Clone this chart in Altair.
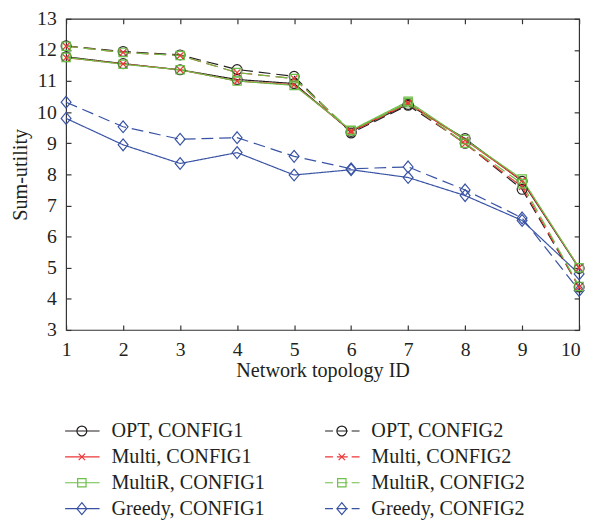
import altair as alt
import pandas as pd

# ---------------- data ----------------
topology_ids = [1, 2, 3, 4, 5, 6, 7, 8, 9, 10]

opt_config1    = [11.78, 11.56, 11.36, 11.05, 10.92, 9.38, 10.25, 9.15, 7.78, 4.98]
multi_config1  = [11.75, 11.55, 11.36, 11.00, 10.88, 9.40, 10.30, 9.10, 7.80, 5.00]
multir_config1 = [11.76, 11.54, 11.36, 11.00, 10.86, 9.42, 10.35, 9.12, 7.85, 5.00]
greedy_config1 = [9.80, 8.95, 8.35, 8.70, 7.98, 8.15, 7.90, 7.32, 6.52, 4.80]

opt_config2    = [12.13, 11.95, 11.84, 11.37, 11.15, 9.33, 10.22, 9.00, 7.52, 4.38]
multi_config2  = [12.12, 11.92, 11.82, 11.27, 11.08, 9.36, 10.28, 8.98, 7.60, 4.38]
multir_config2 = [12.12, 11.92, 11.82, 11.27, 11.08, 9.40, 10.30, 9.00, 7.70, 4.40]
greedy_config2 = [10.32, 9.53, 9.13, 9.18, 8.58, 8.18, 8.24, 7.50, 6.60, 4.27]

algorithms = ["OPT", "Multi", "MultiR", "Greedy"]
configs = ["CONFIG1", "CONFIG2"]
y_ticks = [3, 4, 5, 6, 7, 8, 9, 10, 11, 12, 13]

series_defs = [
    ("Greedy", "CONFIG1", greedy_config1),
    ("Greedy", "CONFIG2", greedy_config2),
    ("OPT", "CONFIG1", opt_config1),
    ("OPT", "CONFIG2", opt_config2),
    ("Multi", "CONFIG1", multi_config1),
    ("Multi", "CONFIG2", multi_config2),
    ("MultiR", "CONFIG1", multir_config1),
    ("MultiR", "CONFIG2", multir_config2),
]

rows = []
for algo, cfg, vals in series_defs:
    for tid, v in zip(topology_ids, vals):
        rows.append({"id": tid, "value": v, "algo": algo, "config": cfg,
                     "series": f"{algo}, {cfg}"})
df = pd.DataFrame(rows)

# legend entries (two columns, four rows)
leg_rows = []
for c, cfg in enumerate(configs):
    for r, algo in enumerate(algorithms):
        leg_rows.append({"label": f"{algo}, {cfg}", "algo": algo, "config": cfg,
                         "col": c, "row": r})
leg = pd.DataFrame(leg_rows)

# ---------------- styling ----------------
FONT = "Liberation Serif"
TXT = "#231f20"
colors = ["#231f20", "#ee3536", "#6cbf47", "#3953a4"]
shapes = [
    "circle",
    "M-0.65,-0.65L0.65,0.65M-0.65,0.65L0.65,-0.65",   # x
    "M-0.85,-0.85L0.85,-0.85L0.85,0.85L-0.85,0.85Z",  # square
    "M0,-1.2L1.0,0L0,1.2L-1.0,0Z",                    # diamond
]
color_scale = alt.Scale(domain=algorithms, range=colors)
shape_scale = alt.Scale(domain=algorithms, range=shapes)
dash_scale = alt.Scale(domain=configs, range=[[1, 0], [12, 6]])

W, H = 521, 316
x_scale = alt.Scale(domain=[1, 10], nice=False, zero=False)
y_scale = alt.Scale(domain=[3, 13], nice=False, zero=False)

common_axis = dict(offset=-5, tickSize=5, domain=False, tickColor="#333",
                   tickWidth=1.2, labelFont=FONT, labelFontSize=20, labelColor=TXT,
                   titleFont=FONT, titleFontSize=20.5, titleColor=TXT,
                   titleFontWeight="normal", grid=False, labelFlush=False)

lines = alt.Chart(df).mark_line(strokeWidth=1.2).encode(
    x=alt.X("id:Q", scale=x_scale,
            axis=alt.Axis(orient="bottom", title="Network topology ID",
                          values=topology_ids, format="d", labelPadding=10,
                          titlePadding=1,
                          labelAlign={"expr": "datum.value == 10 ? 'right' : 'center'"},
                          labelOffset={"expr": "datum.value == 10 ? 1 : 0"},
                          **common_axis)),
    y=alt.Y("value:Q", scale=y_scale,
            axis=alt.Axis(orient="left", title="Sum-utility", values=y_ticks,
                          format="d", labelPadding=10, titlePadding=6,
                          **common_axis)),
    color=alt.Color("algo:N", scale=color_scale, legend=None),
    strokeDash=alt.StrokeDash("config:N", scale=dash_scale, legend=None),
    detail="series:N",
)

points = alt.Chart(df).mark_point(filled=False, size=100, strokeWidth=1.2,
                                  opacity=1).encode(
    x=alt.X("id:Q", scale=x_scale, axis=None),
    y=alt.Y("value:Q", scale=y_scale, axis=None),
    color=alt.Color("algo:N", scale=color_scale, legend=None),
    shape=alt.Shape("algo:N", scale=shape_scale, legend=None),
)

frame = alt.Chart(df).mark_point(opacity=0).encode(
    x=alt.X("id:Q", scale=x_scale,
            axis=alt.Axis(orient="top", values=topology_ids, labels=False,
                          title=None, **common_axis)),
    y=alt.Y("value:Q", scale=y_scale,
            axis=alt.Axis(orient="right", values=y_ticks, labels=False,
                          title=None, **common_axis)),
)

main = alt.layer(frame, lines, points).resolve_axis(
    x="independent", y="independent"
).properties(width=W, height=H)

# ---------------- legend panel ----------------
LW, LH = 521, 92
leg_x = alt.Scale(domain=[0, LW], nice=False, zero=False)
leg_y = alt.Scale(domain=[-0.25, 3.25], reverse=True, nice=False, zero=False)

base = alt.Chart(leg).transform_calculate(
    x0="datum.col == 0 ? -1 : 263",
).transform_calculate(
    x1="datum.x0 + 35", xm="datum.x0 + 17", xt="datum.x0 + 47",
)

leg_line_solid = base.transform_filter("datum.col == 0").mark_rule(
    strokeWidth=1.2).encode(
    x=alt.X("x0:Q", scale=leg_x, axis=None), x2="x1:Q",
    y=alt.Y("row:Q", scale=leg_y, axis=None),
    color=alt.Color("algo:N", scale=color_scale, legend=None),
)
leg_line_dash = base.transform_filter("datum.col == 1").mark_rule(
    strokeWidth=1.2, strokeDash=[8, 4, 11, 4, 8, 40]).encode(
    x=alt.X("x0:Q", scale=leg_x, axis=None), x2="x1:Q",
    y=alt.Y("row:Q", scale=leg_y, axis=None),
    color=alt.Color("algo:N", scale=color_scale, legend=None),
)
leg_pts = base.mark_point(filled=False, size=100, strokeWidth=1.2,
                          opacity=1).encode(
    x=alt.X("xm:Q", scale=leg_x, axis=None),
    y=alt.Y("row:Q", scale=leg_y, axis=None),
    color=alt.Color("algo:N", scale=color_scale, legend=None),
    shape=alt.Shape("algo:N", scale=shape_scale, legend=None),
)
leg_txt = base.mark_text(align="left", baseline="middle", font=FONT,
                         fontSize=20.5, color=TXT).encode(
    x=alt.X("xt:Q", scale=leg_x, axis=None),
    y=alt.Y("row:Q", scale=leg_y, axis=None),
    text="label:N",
)
legend_panel = alt.layer(leg_line_solid, leg_line_dash, leg_pts, leg_txt).properties(
    width=LW, height=LH, view=alt.ViewBackground(strokeOpacity=0))

chart = alt.vconcat(main, legend_panel, spacing=39).configure_view(
    stroke="#333", strokeWidth=1.2
).properties(
    padding={"left": 2, "top": -4, "right": 0, "bottom": -3},
    background="white",
)

chart.save("out.html", embed_options={"renderer": "svg", "actions": False})
